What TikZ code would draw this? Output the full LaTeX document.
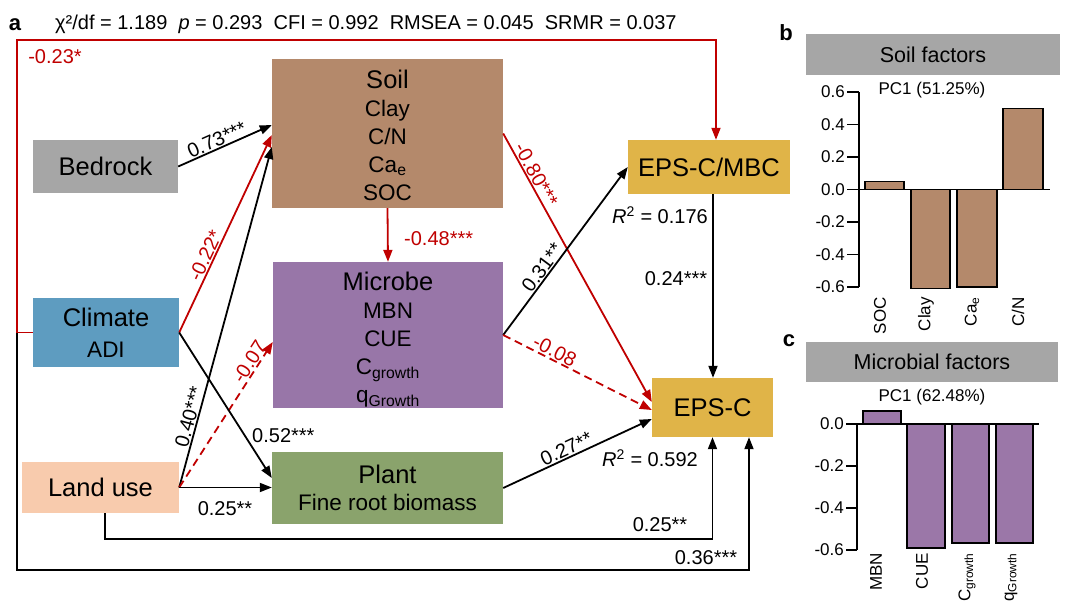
\documentclass[tikz,border=0pt]{standalone}
\usepackage{fontspec}
\setmainfont{Liberation Sans}
\usetikzlibrary{arrows.meta,calc}
\definecolor{soilc}{HTML}{B4896B}
\definecolor{rockc}{HTML}{A6A6A6}
\definecolor{climc}{HTML}{5E9CC0}
\definecolor{micc}{HTML}{9876A8}
\definecolor{landc}{HTML}{F8CBAD}
\definecolor{plantc}{HTML}{8AA36C}
\definecolor{epscol}{HTML}{E0B448}
\definecolor{redc}{HTML}{C00000}
\definecolor{barbrown}{HTML}{B4896B}
\definecolor{barpurp}{HTML}{9B77A8}
\newcommand\fbig{\fontsize{25.5}{28}\selectfont}
\newcommand\fsub{\fontsize{22.5}{28}\selectfont}
\newcommand\flab{\fontsize{20}{24}\selectfont}
\newcommand\fax{\fontsize{17}{20}\selectfont}
\newcommand\fhdr{\fontsize{21.5}{24}\selectfont}
\begin{document}
\begin{tikzpicture}[x=1pt,y=-1pt,
  box/.style={draw=none, inner sep=0pt, align=center, text=black, font=\fsub},
  arr/.style={line width=1.8pt, -{Triangle[length=12pt,width=9pt]}},
  redarr/.style={arr, draw=redc},
  redash/.style={redarr, dash pattern=on 8pt off 5pt},
  lab/.style={font=\flab, inner sep=1pt},
  rlab/.style={lab, text=redc},
  axl/.style={font=\fax, inner sep=0pt},
  barl/.style={font=\fax, inner sep=0pt, rotate=90, anchor=east},
  ]
\useasboundingbox (0,0) rectangle (1080,608);
\fill[white] (0,0) rectangle (1080,608);

% ---- boxes ----
\node[box, fill=rockc, minimum width=145, minimum height=53] (bedrock) at (105.5,166.5) {{\fbig Bedrock}};
\node[box, fill=climc, minimum width=146, minimum height=69] (climate) at (106,332.5) {{\fbig Climate}\\[3pt]ADI};
\node[box, fill=landc, minimum width=157, minimum height=51] (landuse) at (100.5,487.5) {{\fbig Land use}};
\node[box, fill=soilc, minimum width=231, minimum height=149] (soil) at (387.5,133.5) {{\fbig\rule{0pt}{22.5pt}Soil}\\Clay\\C/N\\Ca\textsubscript{e}\\SOC};
\node[box, fill=micc, minimum width=230, minimum height=146] (microbe) at (388,335) {{\fbig\rule{0pt}{27pt}Microbe}\\MBN\\CUE\\C\textsubscript{growth}\\q\textsubscript{Growth}};
\node[box, fill=plantc, minimum width=231, minimum height=72] (plant) at (387.5,488) {{\fbig Plant}\\[-1pt]Fine root biomass};
\node[box, fill=epscol, minimum width=162, minimum height=54] (mbc) at (709,167) {{\fbig EPS-C/MBC}};
\node[box, fill=epscol, minimum width=121, minimum height=59] (epsc) at (712.5,407.5) {{\fbig EPS-C}};

% ---- outer paths ----
\coordinate (cl) at (17,332.5);
\coordinate (tl) at (17,40);
\coordinate (bl) at (17,570);
\draw[arr] (climate.west) -- (cl) -- (bl) -| ([xshift=36.5pt]epsc.south);
\draw[redarr] (climate.west) -- (cl) -- (tl) -| ([xshift=7pt]mbc.north);
\draw[arr] ([xshift=4.5pt]landuse.south) -- ++(0,26) -| (epsc.south);

% ---- edges ----
\draw[arr] (bedrock.east) -- node[lab, sloped, above, pos=0.45] {0.73***} ([yshift=8.5pt]soil.west);
\draw[redarr] (climate.east) -- node[rlab, sloped, above, pos=0.37] {-0.22*} ([yshift=-1.5pt]soil.west);
\draw[arr] (landuse.east) -- node[lab, sloped, above, pos=0.2] {0.40***} ([yshift=-13.5pt]soil.west);
\draw[redash] (landuse.east) -- node[rlab, sloped, above, pos=0.83] {-0.07} ([yshift=-7pt]microbe.west);
\draw[arr] (climate.east) -- ([yshift=10pt]plant.west);
\draw[arr] (landuse.east) -- (landuse.east -| plant.west);
\draw[redarr] (soil.south) -- (microbe.north);
\draw[redarr] (soil.east) -- node[rlab, sloped, above, pos=0.17] {-0.80***} ([yshift=5.5pt]epsc.west);
\draw[arr] (microbe.east) -- node[lab, sloped, above, pos=0.37] {0.31**} (mbc.west);
\draw[redash] (microbe.east) -- node[rlab, sloped, above, pos=0.32] {-0.08} ([yshift=-2.5pt]epsc.west);
\draw[arr] (plant.east) -- node[lab, sloped, above, pos=0.45] {0.27**} ([yshift=-11.5pt]epsc.west);
\draw[arr] ([xshift=0.5pt]epsc.north |- mbc.south) -- ([xshift=0.5pt]epsc.north);

% ---- free labels ----
\node[font=\bfseries\fontsize{22}{24}\selectfont, inner sep=0] (pa) at (15,25) {a};
\node[font=\flab, anchor=west, inner sep=0] (stats) at (55,24) {χ²/df = 1.189\ \ \textit{p} = 0.293\ \ CFI = 0.992\ \ RMSEA = 0.045\ \ SRMR = 0.037};
\node[rlab] (l23) at (55,57) {-0.23*};
\node[rlab, anchor=west] (l48) at (403,239) {-0.48***};
\node[lab, anchor=west] (l52) at (251,436) {0.52***};
\node[lab] (l25a) at (225,509) {0.25**};
\node[lab] (r1) at (660,215) {\textit{R}\textsuperscript{2} = 0.176};
\node[lab] (l24) at (676,279) {0.24***};
\node[lab] (r2) at (650,458) {\textit{R}\textsuperscript{2} = 0.592};
\node[lab] (l25b) at (660,525) {0.25**};
\node[lab] (l36) at (706,558) {0.36***};

% ---- panel b ----
\node[font=\bfseries\fontsize{22}{24}\selectfont, inner sep=0] (pb) at (786,33) {b};
\node[fill=rockc, minimum width=254, minimum height=41, inner sep=0, font=\fhdr] (hb) at (933,54.5) {Soil factors};
\node[font=\fax] (pcb) at (932,90) {PC1 (51.25\%)};
\draw[fill=barbrown, line width=1.3pt] (865,189.5) rectangle (904,181.4);
\draw[fill=barbrown, line width=1.3pt] (911,189.5) rectangle (950,288.6);
\draw[fill=barbrown, line width=1.3pt] (957,189.5) rectangle (997,287);
\draw[fill=barbrown, line width=1.3pt] (1003,189.5) rectangle (1043,108.3);
\draw[line width=1.6pt] (859,92) -- (859,287);
\draw[line width=1.6pt] (859,189.5) -- (1050,189.5);
\foreach \v/\t in {0.6/0.6,0.4/0.4,0.2/0.2,0/0.0,-0.2/-0.2,-0.4/-0.4,-0.6/-0.6}{
  \draw[line width=1.6pt] (847,{189.5-\v*162.5}) -- (859,{189.5-\v*162.5});
  \node[axl, anchor=east] at (845,{189.5-\v*162.5}) {\t};
}
\node[barl] at (880,297) {SOC};
\node[barl] at (926,297) {Clay};
\node[barl] at (972,297) {Ca\textsubscript{e}};
\node[barl] at (1018,297) {C/N};

% ---- panel c ----
\node[font=\bfseries\fontsize{22}{24}\selectfont, inner sep=0] (pc) at (789,341) {c};
\node[fill=rockc, minimum width=252, minimum height=40, inner sep=0, font=\fhdr] (hc) at (932,362) {Microbial factors};
\node[font=\fax] (pcc) at (932,397) {PC1 (62.48\%)};
\draw[fill=barpurp, line width=1.3pt] (863,424) rectangle (901,411);
\draw[fill=barpurp, line width=1.3pt] (907,424) rectangle (945,548);
\draw[fill=barpurp, line width=1.3pt] (952,424) rectangle (989,543);
\draw[fill=barpurp, line width=1.3pt] (996,424) rectangle (1033,543);
\draw[line width=1.6pt] (857,424) -- (857,550);
\draw[line width=1.6pt] (857,424) -- (1039,424);
\foreach \v/\t in {0/0.0,-0.2/-0.2,-0.4/-0.4,-0.6/-0.6}{
  \draw[line width=1.6pt] (846,{424-\v*210}) -- (857,{424-\v*210});
  \node[axl, anchor=east] at (844,{424-\v*210}) {\t};
}
\node[barl] at (876,553) {MBN};
\node[barl] at (922,553) {CUE};
\node[barl] at (967,553) {C\textsubscript{growth}};
\node[barl] at (1011,553) {q\textsubscript{Growth}};
\end{tikzpicture}
\end{document}
